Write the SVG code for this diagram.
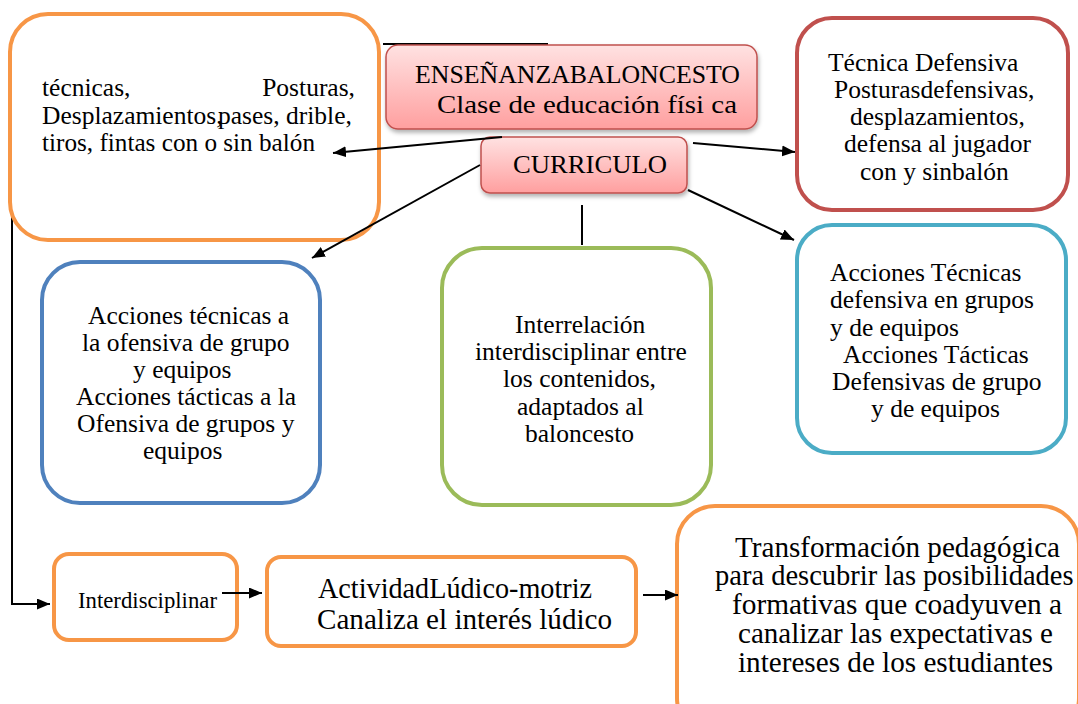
<svg xmlns="http://www.w3.org/2000/svg" width="1078" height="704" viewBox="0 0 1078 704">
<defs>
  <linearGradient id="pink" x1="0" y1="0" x2="0" y2="1">
    <stop offset="0" stop-color="#FFE2E2"/>
    <stop offset="1" stop-color="#FF9F9F"/>
  </linearGradient>
  <filter id="sh" x="-10%" y="-10%" width="120%" height="140%">
    <feDropShadow dx="1" dy="3" stdDeviation="2" flood-color="#000" flood-opacity="0.3"/>
  </filter>
  <marker id="arr" markerUnits="userSpaceOnUse" markerWidth="14" markerHeight="12" refX="13" refY="5.5" orient="auto">
    <path d="M0,0 L13,5.5 L0,11 z" fill="#000"/>
  </marker>
  <style>
    text{font-family:'Liberation Serif','Times New Roman',Times,serif;font-size:25.5px;fill:#000}
    .big{font-size:28.5px}
    .box{fill:#fff;stroke-width:4}
    .or{stroke:#F79646}
    .rd{stroke:#C0504D}
    .bl{stroke:#4F81BD}
    .gr{stroke:#9BBB59}
    .tl{stroke:#4BACC6}
    .pk{fill:url(#pink);stroke:#C0504D;stroke-width:1.5;filter:url(#sh)}
    .ln{stroke:#000;stroke-width:2;fill:none}
  </style>
</defs>
<rect width="1078" height="704" fill="#fff"/>

<g id="conn-back">
  <path class="ln" d="M383,44 L548,44"/>
  <path class="ln" d="M12,215 L12,604 L50,604" marker-end="url(#arr)"/>
</g>

<g font-family="Liberation Serif, serif">
<g id="n-left">
  <rect class="box or" x="10" y="14" width="369" height="226" rx="38"/>
  <text x="42" y="96">técnicas,</text>
  <text x="355" y="96" text-anchor="end">Posturas,</text>
  <text x="42" y="124">Desplazamientos,</text>
  <text x="218" y="124">pases, drible,</text>
  <text x="42" y="151" textLength="273" lengthAdjust="spacingAndGlyphs">tiros, fintas con o sin balón</text>
</g>

<g id="n-title">
  <rect class="pk" x="386" y="45" width="371" height="84" rx="12"/>
  <text x="415" y="83" textLength="325" lengthAdjust="spacingAndGlyphs">ENSEÑANZABALONCESTO</text>
  <text x="437" y="113" textLength="300" lengthAdjust="spacingAndGlyphs">Clase de educación físi ca</text>
</g>

<g id="n-curriculo">
  <rect class="pk" x="481" y="137" width="206" height="56" rx="9"/>
  <text x="513" y="173" textLength="154" lengthAdjust="spacingAndGlyphs">CURRICULO</text>
</g>

<g id="n-red">
  <rect class="box rd" x="797" y="18" width="271" height="192" rx="35"/>
  <text x="828" y="71">Técnica Defensiva</text>
  <text x="834" y="98">Posturasdefensivas,</text>
  <text x="850" y="125">desplazamientos,</text>
  <text x="844" y="152">defensa al jugador</text>
  <text x="860" y="180">con y sinbalón</text>
</g>

<g id="n-blue">
  <rect class="box bl" x="42" y="262" width="278" height="241" rx="38"/>
  <text x="88" y="324">Acciones técnicas a</text>
  <text x="82" y="351">la ofensiva de grupo</text>
  <text x="133" y="378">y equipos</text>
  <text x="76" y="405">Acciones tácticas a la</text>
  <text x="77" y="432">Ofensiva de grupos y</text>
  <text x="143" y="459">equipos</text>
</g>

<g id="n-green">
  <rect class="box gr" x="442" y="248" width="269" height="257" rx="40"/>
  <text x="515" y="333">Interrelación</text>
  <text x="475" y="360">interdisciplinar entre</text>
  <text x="503" y="387">los contenidos,</text>
  <text x="517" y="415">adaptados al</text>
  <text x="525" y="442">baloncesto</text>
</g>

<g id="n-teal">
  <rect class="box tl" x="797" y="225" width="269" height="228" rx="35"/>
  <text x="830" y="281">Acciones Técnicas</text>
  <text x="830" y="308">defensiva en grupos</text>
  <text x="830" y="336">y de equipos</text>
  <text x="843" y="363">Acciones Tácticas</text>
  <text x="832" y="390">Defensivas de grupo</text>
  <text x="871" y="417">y de equipos</text>
</g>

<g id="n-inter">
  <rect class="box or" x="54" y="554" width="183" height="86" rx="15"/>
  <text x="78" y="608" style="font-size:23px" textLength="139" lengthAdjust="spacingAndGlyphs">Interdisciplinar</text>
</g>

<g id="n-actividad">
  <rect class="box or" x="267" y="557" width="369" height="89" rx="14"/>
  <text class="big" x="318" y="598" textLength="274" lengthAdjust="spacingAndGlyphs">ActividadLúdico-motriz</text>
  <text class="big" x="317" y="629" textLength="295" lengthAdjust="spacingAndGlyphs">Canaliza el interés lúdico</text>
</g>

<g id="n-transf">
  <rect class="box or" x="677" y="506" width="402" height="230" rx="38"/>
  <text class="big" x="735" y="557" textLength="325" lengthAdjust="spacingAndGlyphs">Transformación pedagógica</text>
  <text class="big" x="715" y="585">para descubrir las posibilidades</text>
  <text class="big" x="732" y="614" textLength="330" lengthAdjust="spacingAndGlyphs">formativas que coadyuven a</text>
  <text class="big" x="738" y="643" textLength="315" lengthAdjust="spacingAndGlyphs">canalizar las expectativas e</text>
  <text class="big" x="738" y="672" textLength="315" lengthAdjust="spacingAndGlyphs">intereses de los estudiantes</text>
</g>
</g>

<g id="connectors">
  <path class="ln" d="M502,137 L333,153" marker-end="url(#arr)"/>
  <path class="ln" d="M480,165 L312,258" marker-end="url(#arr)"/>
  <path class="ln" d="M693,143 L795,152" marker-end="url(#arr)"/>
  <path class="ln" d="M688,190 L794,240" marker-end="url(#arr)"/>
  <path class="ln" d="M582,205 L582,245"/>
  <path class="ln" d="M222,593 L262,593" marker-end="url(#arr)"/>
  <path class="ln" d="M643,595 L678,595" marker-end="url(#arr)"/>
</g>
</svg>
